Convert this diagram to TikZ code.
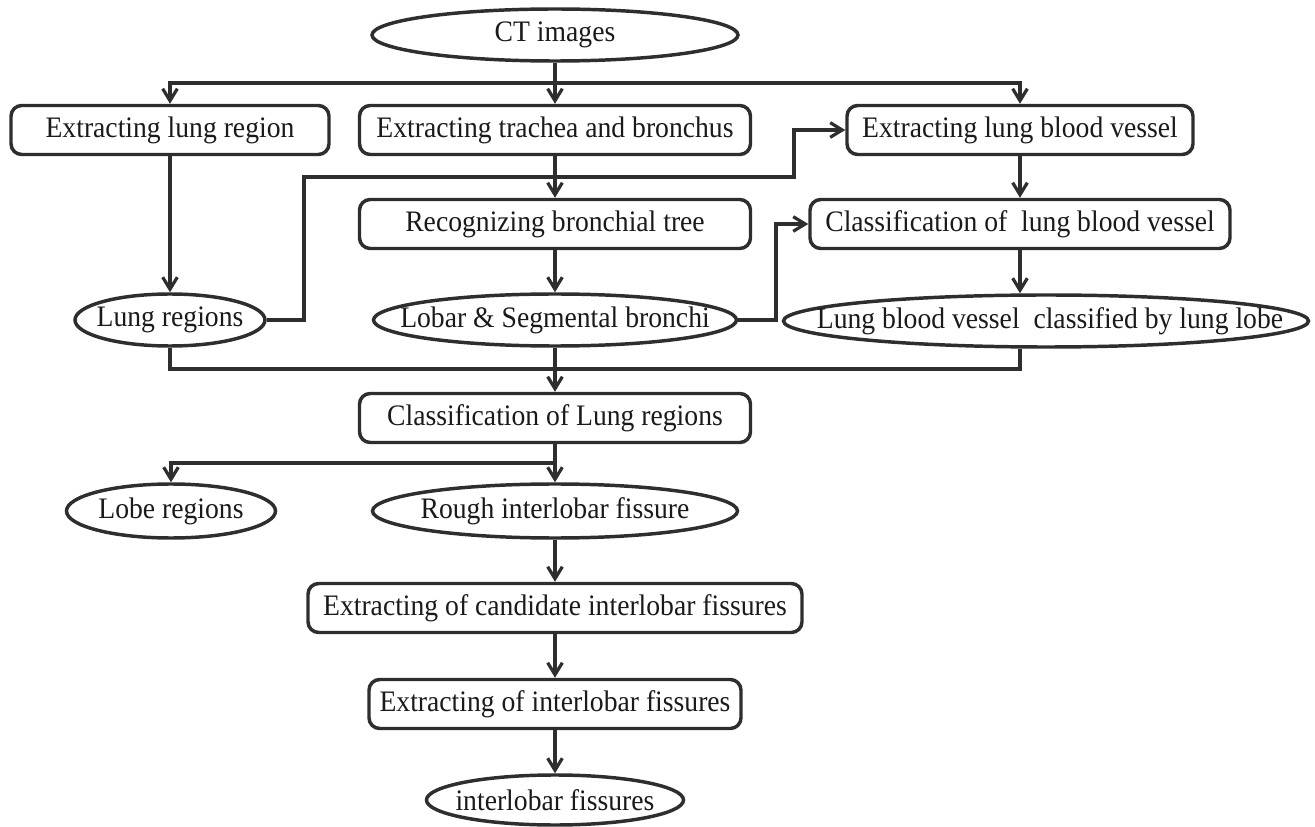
\documentclass[tikz,border=0pt]{standalone}
\usepackage{fontspec}
\setmainfont[FakeStretch=0.93]{Liberation Serif}
\usetikzlibrary{arrows.meta,shapes.geometric}
\definecolor{ln}{HTML}{2E2E2E}
\definecolor{tx}{HTML}{1A1A1A}
\begin{document}
\begin{tikzpicture}[x=0.75pt,y=-0.75pt,
  font=\fontsize{22.3}{26}\selectfont,
  every node/.style={text=tx},
  stepbox/.style={draw=ln,line width=2.6pt,rounded corners=8pt,minimum height=36.75pt,inner sep=2pt},
  ell/.style={draw=ln,line width=2.6pt,ellipse,inner sep=0pt,minimum height=39pt},
  arr/.style={draw=ln,line width=2.6pt,-{Straight Barb[length=9pt,width=11pt,line width=2.4pt]}},
  con/.style={draw=ln,line width=2.6pt}]
\useasboundingbox (0,0) rectangle (1315,827);

% row 0
\node[ell,minimum width=274.5pt] (ct) at (555,35) {};
\node at (ct.center) {CT images};

% row 1
\node[stepbox,minimum width=238.5pt] (elr) at (170,130) {Extracting lung region};
\node[stepbox,minimum width=293.25pt] (etb) at (555,130) {Extracting trachea and bronchus};
\node[stepbox,minimum width=259.5pt] (elbv) at (1020,130) {Extracting lung blood vessel};

% row 2
\node[stepbox,minimum width=293.25pt] (rbt) at (555,224) {Recognizing bronchial tree};
\node[stepbox,minimum width=315pt] (clbv) at (1020,224) {Classification of\ \ lung blood vessel};

% row 3
\node[ell,minimum width=142.5pt] (lr) at (170,320) {};
\node at (lr.center) {Lung regions};
\node[ell,minimum width=272.25pt] (lsb) at (555,320) {};
\node at (lsb.center) {Lobar \& Segmental bronchi};
\node[ell,minimum width=393.75pt] (lbvc) at (1046,321) {};
\node at (1050,321) {Lung blood vessel\ \ classified by lung lobe};

% row 4
\node[stepbox,minimum width=293.25pt] (clr) at (555,418) {Classification of Lung regions};

% row 5
\node[ell,minimum width=156.75pt,minimum height=40.5pt] (lobe) at (171,511) {};
\node at (lobe.center) {Lobe regions};
\node[ell,minimum width=273.75pt,minimum height=40.5pt] (rif) at (555,511) {};
\node at (rif.center) {Rough interlobar fissure};

% rows 6-8
\node[stepbox,minimum width=370.5pt] (ecif) at (555,608) {Extracting of candidate interlobar fissures};
\node[stepbox,minimum width=279pt] (eif) at (555,704) {Extracting of interlobar fissures};
\node[ell,minimum width=192.75pt,minimum height=37.5pt] (ifs) at (555,800) {};
\node at (ifs.center) {interlobar fissures};

% junction coordinates
\coordinate (j1) at (555,83);
\coordinate (b1) at (304,177);
\coordinate (b2) at (794,177);
\coordinate (b3) at (776,224);
\coordinate (m) at (555,369);
\coordinate (s) at (555,463);

% connectors
\draw[arr] (ct.south) -- (etb.north);
\draw[arr] (j1) -| (elr.north);
\draw[arr] (j1) -| (elbv.north);
\draw[arr] (elr.south) -- (lr.north);
\draw[arr] (lr.east) -| (b1) -- (b2) |- (elbv.west);
\draw[arr] (etb.south) -- (rbt.north);
\draw[arr] (rbt.south) -- (lsb.north);
\draw[arr] (lsb.east) -| (b3) -- (clbv.west);
\draw[arr] (elbv.south) -- (clbv.north);
\draw[arr] (clbv.south) -- (lbvc.north -| clbv.south);
\draw[con] (lr.south) |- (m);
\draw[con] (lbvc.south -| clbv.south) |- (m);
\draw[arr] (lsb.south) -- (clr.north);
\draw[arr] (clr.south) -- (rif.north);
\draw[arr] (s) -| (lobe.north);
\draw[arr] (rif.south) -- (ecif.north);
\draw[arr] (ecif.south) -- (eif.north);
\draw[arr] (eif.south) -- (ifs.north);
\end{tikzpicture}
\end{document}
